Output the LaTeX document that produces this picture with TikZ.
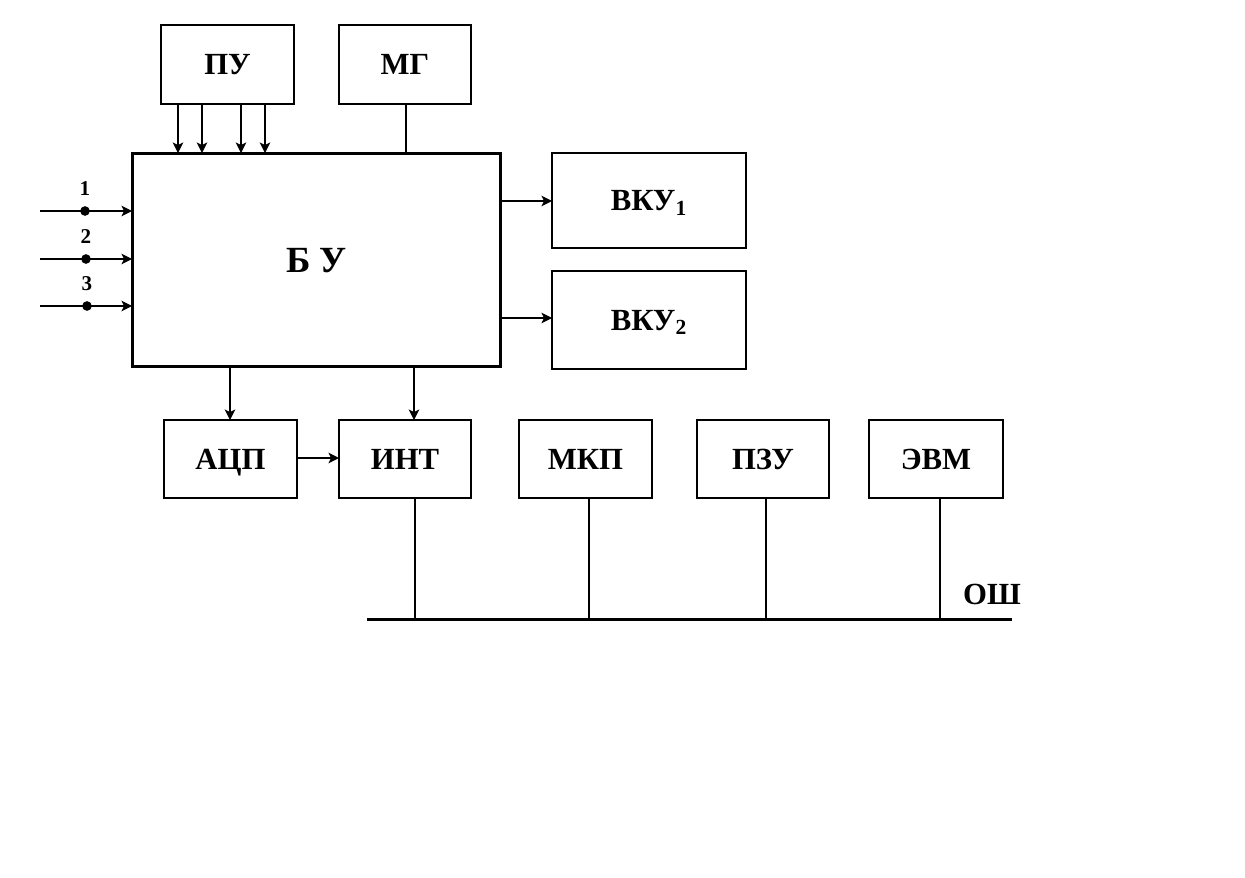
\documentclass[tikz,border=0pt]{standalone}
\usepackage{fontspec}
\setmainfont{Liberation Serif}
\usepackage{tikz}
\usetikzlibrary{arrows.meta}
\tikzset{block/.style={
    draw, line width=0.9pt, minimum width=#1, minimum height=1.58cm,
    inner sep=0pt, outer sep=0pt, text height=11.5pt, text depth=0pt,
    font=\fontsize{17.5}{20}\selectfont\bfseries
  },
  block/.default={2.66cm},
  arr/.style={-{Stealth[length=6pt,width=6pt,inset=1.5pt]}, line width=0.6pt},
  arr thick/.style={arr, line width=1.1pt},
  link/.style={line width=0.6pt},
  dot/.style={circle, fill, inner sep=0pt, minimum size=5.5pt},
  num/.style={font=\fontsize{12}{13}\selectfont\bfseries, inner sep=0pt}
}
\begin{document}
\begin{tikzpicture}[x=0.02cm,y=-0.02cm]
    \useasboundingbox (0,0) rectangle (1245,877);

    % upper row
    \node[block] (pu) at (227.5,64.5) {ПУ};
    \node[block=2.64cm] (mg) at (405,64.5) {МГ};

    % control block
    \node[block=7.38cm, minimum height=4.28cm, line width=1.7pt, text height=13.9pt,
          font=\fontsize{21}{24}\selectfont\bfseries] (bu) at (316.5,260) {Б У};

    \node[block=3.88cm, minimum height=1.9cm] (vku1) at (649,200.5) {ВКУ\textsubscript{1}};
    \node[block=3.88cm, minimum height=1.96cm] (vku2) at (649,320) {ВКУ\textsubscript{2}};

    % lower row
    \node[block=2.66cm, minimum height=1.56cm] (adc) at (230.5,459) {АЦП};
    \node[block=2.64cm, minimum height=1.56cm] (int) at (405,459) {ИНТ};
    \node[block=2.66cm, minimum height=1.56cm] (mkp) at (585.5,459) {МКП};
    \node[block=2.64cm, minimum height=1.56cm] (pzu) at (763,459) {ПЗУ};
    \node[block=2.68cm, minimum height=1.56cm] (evm) at (936,459) {ЭВМ};

    % inputs
    \foreach \i/\y/\d in {1/211/85,2/259/86,3/306/87} {
      \coordinate (in\i) at (40,\y);
      \node[dot] (d\i) at (\d,\y) {};
      \node[num, anchor=south] (n\i) at (\d,\y-15) {\i};
      \draw[arr thick] (in\i) -- (bu.west |- in\i);
    }

    \foreach \x in {178,241}
      \draw[arr] (pu.south -| \x,0) -- (bu.north -| \x,0);
    \foreach \x in {202,265}
      \draw[arr thick] (pu.south -| \x,0) -- (bu.north -| \x,0);
    \draw[link, line width=1.1pt] (mg.south -| 406,0) -- (bu.north -| 406,0);

    \draw[arr thick] (bu.east |- 0,201) -- (vku1.west |- 0,201);
    \draw[arr] (bu.east |- 0,318) -- (vku2.west |- 0,318);

    \draw[arr thick] (bu.south -| 230,0) -- (adc.north -| 230,0);
    \draw[arr thick] (bu.south -| 414,0) -- (int.north -| 414,0);
    \draw[arr thick] (adc.east |- 0,458) -- (int.west |- 0,458);

    % common bus
    \coordinate (busL) at (367,619);
    \coordinate (busR) at (1012,619);
    \draw[line width=1.7pt] (busL) -- (busR);
    \node[font=\fontsize{17.5}{20}\selectfont\bfseries, inner sep=0pt] (osh) at (992,594) {ОШ};

    \draw[link] (int.south -| 415,0) -- (busL -| 415,0);
    \draw[link] (mkp.south -| 589,0) -- (busL -| 589,0);
    \draw[link] (pzu.south -| 766,0) -- (busL -| 766,0);
    \draw[link] (evm.south -| 940,0) -- (busL -| 940,0);
  \end{tikzpicture}
\end{document}
